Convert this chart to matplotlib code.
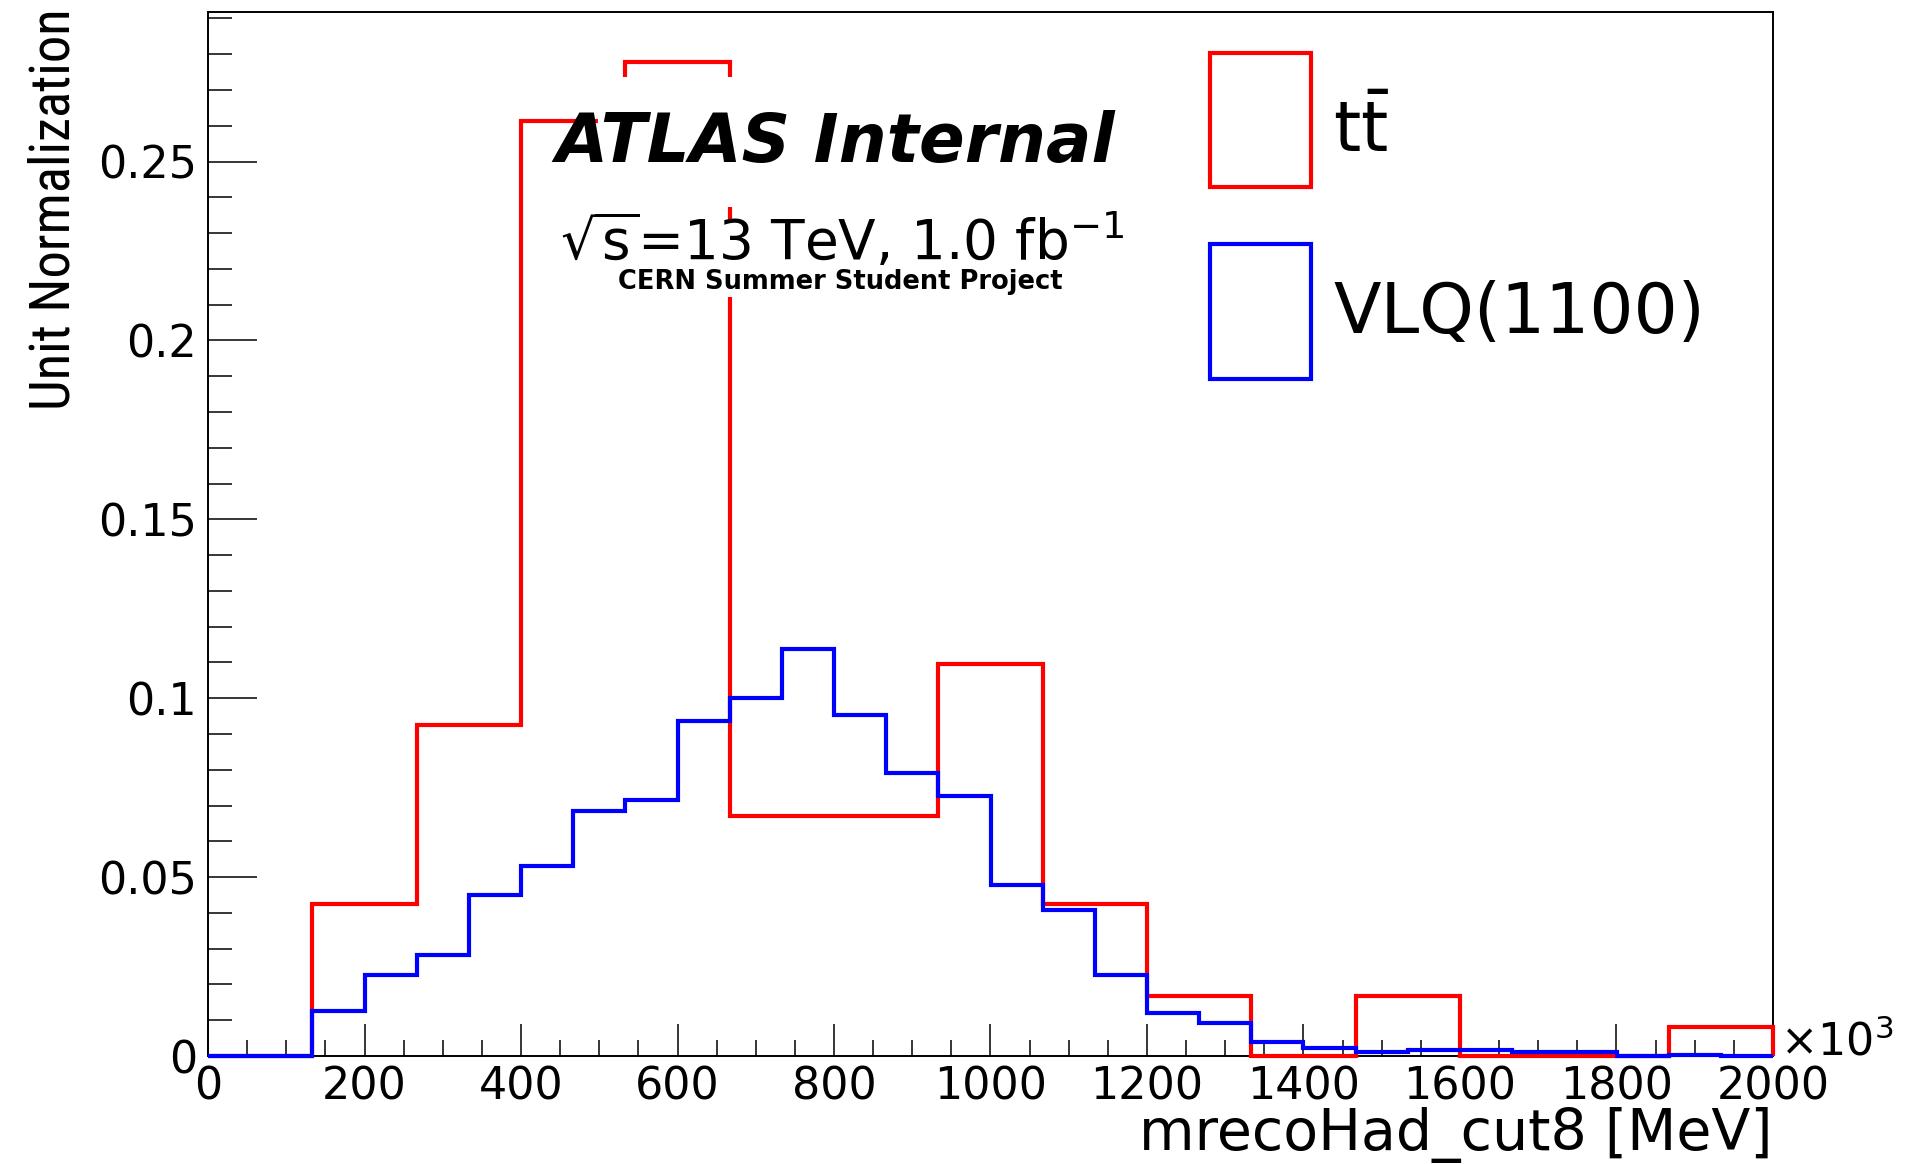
import numpy as np
import matplotlib
matplotlib.use("Agg")
import matplotlib.pyplot as plt
from matplotlib import font_manager
from matplotlib.patches import Patch, Rectangle
from matplotlib.ticker import MultipleLocator, FuncFormatter

# histogram binning (like TH1F(name, "", nbins, 0, 2000))
x_min, x_max = 0, 2000
ttbar_nbins = 15
vlq_nbins = 30

# unit-normalised bin contents
ttbar = [0.0, 0.0425, 0.0926, 0.2612, 0.2779, 0.0672, 0.0672, 0.1096,
         0.0425, 0.0167, 0.0, 0.0167, 0.0, 0.0, 0.0082]
vlq = [0.0, 0.0, 0.0125, 0.0227, 0.0282, 0.0450, 0.0530, 0.0684, 0.0715,
       0.0936, 0.1001, 0.1138, 0.0954, 0.0790, 0.0727, 0.0478, 0.0408,
       0.0227, 0.0120, 0.0093, 0.0038, 0.0022, 0.0011, 0.0016, 0.0016,
       0.0012, 0.0012, 0.0, 0.0004, 0.0]
labels = [r'$\mathrm{t}\bar{\mathrm{t}}$', 'VLQ(1100)']
colors = ['#ff0000', '#0000ff']

ttbar_edges = np.linspace(x_min, x_max, ttbar_nbins + 1)
vlq_edges = np.linspace(x_min, x_max, vlq_nbins + 1)

plt.rcParams['font.family'] = 'DejaVu Sans'

W, H = 1920, 1164
fig = plt.figure(figsize=(W / 100, H / 100), dpi=100)
ax = fig.add_axes([208 / W, 1 - 1056 / H, (1773 - 208) / W, (1056 - 12) / H])

ax.stairs(ttbar, ttbar_edges, color=colors[0], lw=3, zorder=3, clip_on=False)
ax.stairs(vlq, vlq_edges, color=colors[1], lw=3, zorder=4, clip_on=False)

ax.set_xlim(x_min, x_max)
ax.set_ylim(0, 1.05 * max(ttbar))

# ROOT-like axes: inward ticks, no ticks on top/right
for s in ax.spines.values():
    s.set_linewidth(1.4)
ax.xaxis.set_major_locator(MultipleLocator(200))
ax.xaxis.set_minor_locator(MultipleLocator(50))
ax.yaxis.set_major_locator(MultipleLocator(0.05))
ax.yaxis.set_minor_locator(MultipleLocator(0.01))
fmt = FuncFormatter(lambda v, p: '%g' % round(v, 4))
ax.xaxis.set_major_formatter(fmt)
ax.yaxis.set_major_formatter(fmt)
ax.tick_params(which='both', direction='in', top=False, right=False,
               width=1.1, labelsize=32)
ax.tick_params(axis='x', which='major', length=23, pad=7)
ax.tick_params(axis='x', which='minor', length=11.5)
ax.tick_params(axis='y', which='major', length=35, pad=8)
ax.tick_params(axis='y', which='minor', length=17.5)

ax.set_xlabel('mrecoHad_cut8 [MeV]', fontsize=41, loc='right')
ax.xaxis.set_label_coords(1.0, -0.0485)

# y title is a narrow font in the original; use a condensed face if present
fonts = font_manager.fontManager.ttflist
names = {f.name for f in fonts}
ylab_kw = {}
for fam in ['Liberation Sans Narrow', 'Roboto Condensed', 'Open Sans Condensed']:
    if fam in names:
        ylab_kw = {'family': fam}
        break
else:
    if any(f.name == 'DejaVu Sans' and f.stretch == 'condensed' for f in fonts):
        ylab_kw = {'fontstretch': 'condensed'}
ylab = ax.set_ylabel('Unit Normalization', fontsize=31, loc='top', **ylab_kw)
ax.yaxis.set_label_coords(-0.0812, 1.0038)
fig.canvas.draw()
ylab.set_fontsize(31 * 402 / ylab.get_window_extent().height)

fig.text(1780 / W, 1 - 1055 / H, r'$\times10^{3}$', fontsize=32,
         ha='left', va='baseline')

# white boxes behind the labels (hide the histogram there)
for x0, y0, x1, y1 in [(598, 77, 1150, 207), (555, 220, 1150, 297)]:
    fig.add_artist(Rectangle((x0 / W, 1 - y1 / H), (x1 - x0) / W, (y1 - y0) / H,
                             transform=fig.transFigure, facecolor='white',
                             edgecolor='none', zorder=5))

fig.text(555 / W, 1 - 161.7 / H, 'ATLAS Internal', fontsize=48.5,
         fontweight='bold', fontstyle='italic', ha='left', va='baseline',
         zorder=6)
fig.text(560 / W, 1 - 259 / H, r'$\sqrt{\mathrm{s}}$=13 TeV, 1.0 fb$^{-1}$',
         fontsize=39.5, ha='left', va='baseline', zorder=6)
fig.text(840 / W, 1 - 289 / H, 'CERN Summer Student Project', fontsize=18.5,
         fontweight='bold', ha='center', va='baseline', zorder=6)

handles = [Patch(facecolor='none', edgecolor=c, lw=3) for c in colors]
leg = fig.legend(handles, labels, loc='upper left',
                 bbox_to_anchor=(1210 / W, 1 - 53 / H),
                 bbox_transform=fig.transFigure,
                 fontsize=50, frameon=False, borderpad=0, borderaxespad=0,
                 handlelength=1.455, handleheight=2.6, labelspacing=0.82,
                 handletextpad=0.32)
# the ttbar label sits a little lower in the original
leg.get_texts()[0].set_y(-11)

fig.savefig('out.png', dpi=100)
